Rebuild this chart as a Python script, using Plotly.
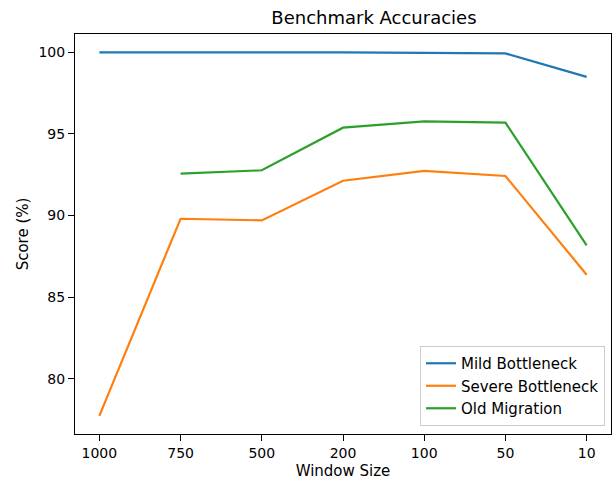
import plotly.graph_objects as go

window_sizes = ["1000", "750", "500", "200", "100", "50", "10"]
mild_bottleneck = [100.0, 99.98, 100.0, 100.0, 99.95, 99.93, 98.49]
severe_bottleneck = [77.72, 89.80, 89.70, 92.13, 92.73, 92.42, 86.37]
old_migration = [None, 92.56, 92.77, 95.38, 95.77, 95.69, 88.17]

series = [
    ("Mild Bottleneck", mild_bottleneck, "#1f77b4"),
    ("Severe Bottleneck", severe_bottleneck, "#ff7f0e"),
    ("Old Migration", old_migration, "#2ca02c"),
]

fig = go.Figure()
for name, vals, color in series:
    fig.add_trace(go.Scatter(
        x=list(range(len(window_sizes))), y=vals, mode="lines", name=name,
        line=dict(color=color, width=2.2), connectgaps=False,
    ))

font = "DejaVu Sans, sans-serif"
fig.update_layout(
    width=615, height=481,
    margin=dict(l=75, r=4, t=34, b=47, autoexpand=False),
    paper_bgcolor="white", plot_bgcolor="white",
    font=dict(family=font, size=14, color="black"),
    title=dict(text="Benchmark Accuracies", x=(75 + 611) / 2 / 615, xanchor="center", xref="paper",
               y=1 - 18 / 481, yanchor="middle", font=dict(size=18)),
    showlegend=True,
    legend=dict(x=0.9888, y=0.02, xanchor="right", yanchor="bottom",
                bordercolor="#cccccc", borderwidth=1, bgcolor="rgba(255,255,255,0.8)",
                font=dict(size=15), tracegroupgap=0, itemwidth=30),
    xaxis=dict(
        tickmode="array", tickvals=list(range(len(window_sizes))), ticktext=window_sizes,
        range=[-0.3, 6.3], showgrid=False, zeroline=False, automargin=False,
        showline=True, linecolor="black", linewidth=1, mirror=True,
        ticks="outside", ticklen=6, tickcolor="black", tickfont=dict(size=14),
        title=dict(text="Window Size", font=dict(size=15), standoff=5),
    ),
    yaxis=dict(
        range=[76.61, 101.12], tickvals=[80, 85, 90, 95, 100],
        showgrid=False, zeroline=False, automargin=False,
        showline=True, linecolor="black", linewidth=1, mirror=True,
        ticks="outside", ticklen=6, tickcolor="black", tickfont=dict(size=14),
        title=dict(text="Score (%)", font=dict(size=15), standoff=6),
    ),
)

fig.write_html("out.html", config={"displayModeBar": False},
               post_script="document.body.style.margin='0';document.body.style.overflow='hidden';")
